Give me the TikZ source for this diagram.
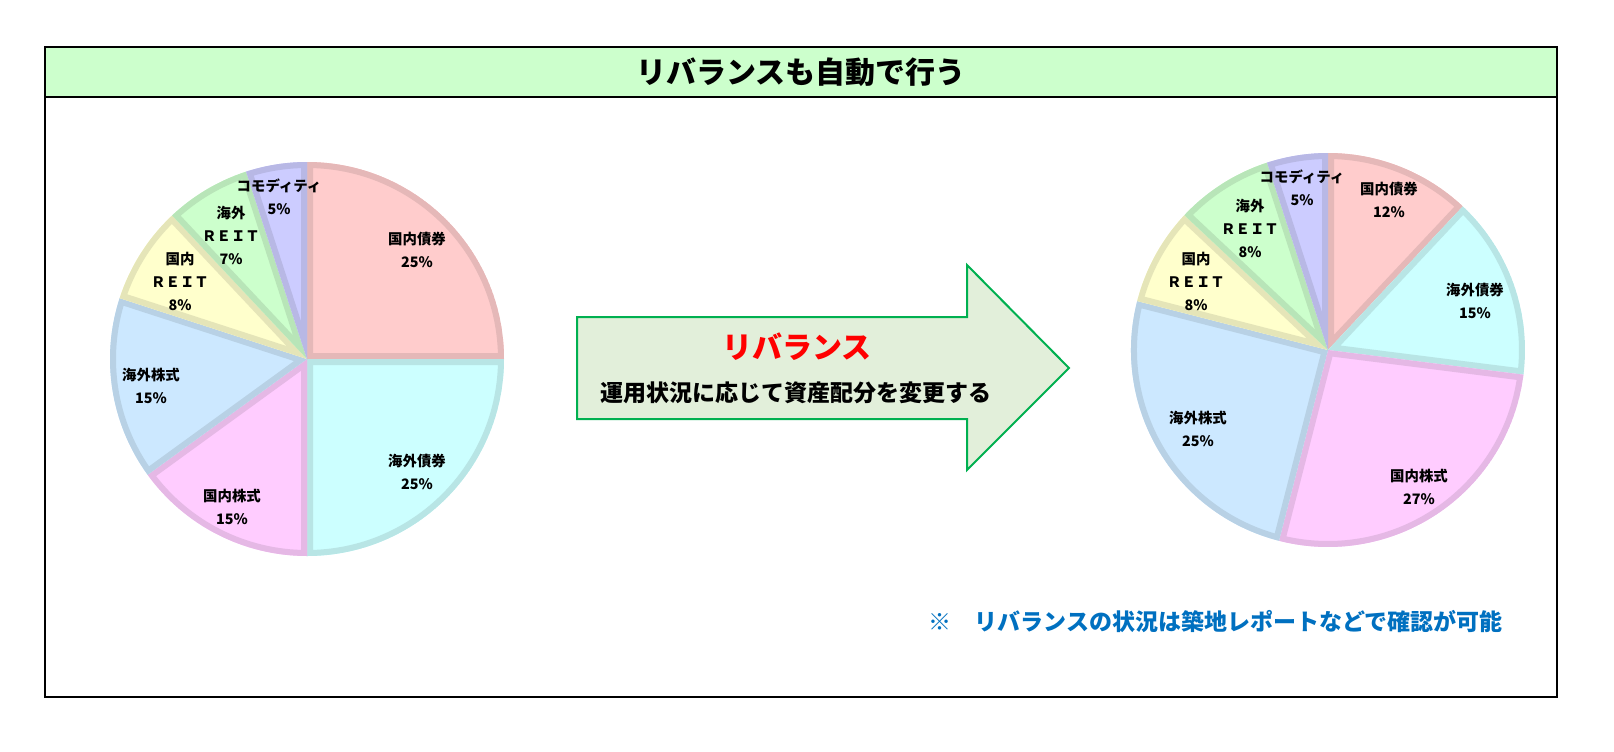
\documentclass[tikz,border=0pt]{standalone}
\usepackage{fontspec}
\setmainfont{Noto Sans CJK JP}
\usepackage{xcolor}
\usepackage{tikz}

\definecolor{dombond}{HTML}{FFCCCC}
\definecolor{forbond}{HTML}{CCFFFF}
\definecolor{domstock}{HTML}{FFCCFF}
\definecolor{forstock}{HTML}{CCE8FF}
\definecolor{domreit}{HTML}{FFFFCC}
\definecolor{forreit}{HTML}{CCFFCC}
\definecolor{commod}{HTML}{CCCCFF}
\definecolor{headbg}{HTML}{CCFFCC}
\definecolor{arrowbg}{HTML}{E2EFDA}
\definecolor{arrowline}{HTML}{00B050}
\definecolor{noteblue}{HTML}{0070C0}

\begin{document}
\begin{tikzpicture}[x=0.5pt, y=0.5pt, every node/.style={inner sep=0pt, font=\bfseries}, lbl/.style={font=\fontsize{7.2}{11.5}\selectfont\bfseries, align=center}]
  \useasboundingbox (0,0) rectangle (1614,-751);
  % frame and header
  \draw[line width=1pt, fill=headbg] (45,-47) rectangle (1557,-97);
  \draw[line width=1pt] (45,-97) rectangle (1557,-697);
  \node(title) at (801,-72) {\fontsize{15}{17}\selectfont\bfseries リバランスも自動で行う};

  % pies
  \coordinate(L) at (307,-359);
  \coordinate(R) at (1328,-350);
  \foreach \c/\a/\b/\f in {L/90/0/dombond, L/0/-90/forbond, L/-90/-144/domstock, L/-144/-198/forstock, L/-198/-226.8/domreit, L/-226.8/-252/forreit, L/-252/-270/commod,
      R/90/46.8/dombond, R/46.8/-7.2/forbond, R/-7.2/-104.4/domstock, R/-104.4/-194.4/forstock, R/-194.4/-223.2/domreit, R/-223.2/-252/forreit, R/-252/-270/commod}{
    \begin{scope}
      \clip (\c) -- ++(\a:197) arc[start angle=\a, end angle=\b, radius=197] -- cycle;
      \draw[fill=\f, draw=\f!90!black, line width=6pt] (\c) -- ++(\a:197) arc[start angle=\a, end angle=\b, radius=197] -- cycle;
    \end{scope}
  }

  % left labels
  \node[lbl](ldb) at (417,-250) {国内債券\\25\%};
  \node[lbl](lfb) at (417,-472) {海外債券\\25\%};
  \node[lbl](lds) at (232,-507) {国内株式\\15\%};
  \node[lbl](lfs) at (151,-386) {海外株式\\15\%};
  \node[lbl](ldr) at (180,-281) {国内\\ＲＥＩＴ\\8\%};
  \node[lbl](lfr) at (231,-235) {海外\\ＲＥＩＴ\\7\%};
  \node[lbl](lcm) at (279,-197) {コモディティ\\5\%};

  % right labels
  \node[lbl](rdb) at (1389,-200) {国内債券\\12\%};
  \node[lbl](rfb) at (1475,-301) {海外債券\\15\%};
  \node[lbl](rds) at (1419,-487) {国内株式\\27\%};
  \node[lbl](rfs) at (1198,-429) {海外株式\\25\%};
  \node[lbl](rdr) at (1196,-281) {国内\\ＲＥＩＴ\\8\%};
  \node[lbl](rfr) at (1250,-228) {海外\\ＲＥＩＴ\\8\%};
  \node[lbl](rcm) at (1302,-188) {コモディティ\\5\%};

  % arrow
  \draw[fill=arrowbg, draw=arrowline, line width=1pt] (577,-317) -- (967,-317) -- (967,-265) -- (1069,-368) -- (967,-470) -- (967,-419) -- (577,-419) -- cycle;
  \node[text=red](rb) at (797,-347) {\fontsize{15}{17}\selectfont\bfseries リバランス};
  \node(rbtext) at (796,-393) {\fontsize{11.5}{14}\selectfont\bfseries 運用状況に応じて資産配分を変更する};

  % note
  \node[text=noteblue, anchor=east](note) at (1503,-622) {\fontsize{11.5}{13}\selectfont\bfseries ※　リバランスの状況は築地レポートなどで確認が可能};
\end{tikzpicture}
\end{document}
